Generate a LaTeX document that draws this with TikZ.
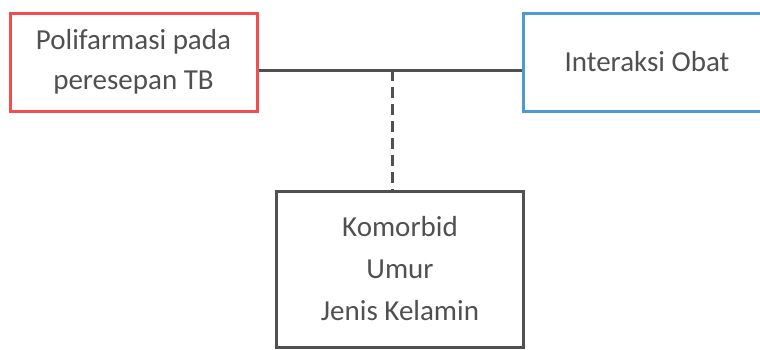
\documentclass[tikz,border=0pt]{standalone}
\usepackage{fontspec}
\setmainfont{Carlito}
\usetikzlibrary{positioning}
\definecolor{boxred}{HTML}{F24E50}
\definecolor{boxblue}{HTML}{4E9AD3}
\definecolor{ink}{HTML}{505050}
\tikzset{
	box/.style={rectangle,draw,line width=1.5pt,align=center,text=ink,
		font=\fontsize{14.5}{20}\selectfont,minimum width=123.5pt},
	link/.style={draw=ink,line width=1.5pt},
}
\begin{document}
\begin{tikzpicture}[x=0.5pt,y=-0.5pt]
	\useasboundingbox (0,0) rectangle (760,349);
	\node[box,draw=boxred,minimum height=49pt]	(poli) at (133.5,62)	{Polifarmasi pada\\peresepan TB};
	\node[box,draw=boxblue,minimum height=49pt]	(obat) at (647,62)	{Interaksi Obat};
	\node[box,draw=ink,minimum height=78pt,font=\fontsize{14.5}{21}\selectfont]	(faktor) at (400,269)	{Komorbid\\Umur\\Jenis Kelamin};
	\coordinate (mid) at (392,70);
	\path[link]
	([yshift=-4pt]poli.east) edge	([yshift=-4pt]obat.west)
	(mid) edge[dash pattern=on 5.5pt off 3pt] (mid |- faktor.north)
	;
\end{tikzpicture}
\end{document}
